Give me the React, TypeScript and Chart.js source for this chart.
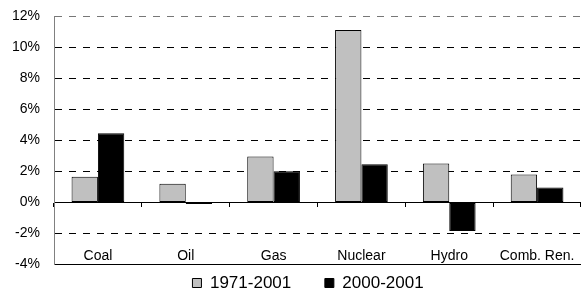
import React, { useEffect, useRef } from "react";
import { Chart, registerables } from "chart.js";

Chart.register(...registerables);

const categories = ["Coal", "Oil", "Gas", "Nuclear", "Hydro", "Comb. Ren."];
const series1971 = [1.65, 1.2, 2.95, 11.1, 2.5, 1.8];
const series2000 = [4.45, -0.1, 2.0, 2.45, -1.85, 0.95];
const seriesNames = ["1971-2001", "2000-2001"];
const yMin = -4;
const yMax = 12;
const yStep = 2;

const FONT = "'Liberation Sans', Arial, Helvetica, sans-serif";
const legendGaps = ["     ", "    "];

export default function App() {
  const ref = useRef<HTMLCanvasElement | null>(null);

  useEffect(() => {
    document.body.style.margin = "0";
    document.body.style.overflow = "hidden";
    if (!ref.current) return;
    const chart = new Chart(ref.current, {
      type: "bar",
      data: {
        labels: categories,
        datasets: [
          {
            label: seriesNames[0],
            data: series1971,
            backgroundColor: "#c0c0c0",
            borderColor: "#000",
            borderWidth: 1,
            borderSkipped: false,
          },
          {
            label: seriesNames[1],
            data: series2000,
            backgroundColor: "#000",
            borderColor: "#000",
            borderWidth: 1,
            borderSkipped: false,
          },
        ],
      },
      options: {
        animation: false,
        responsive: false,
        devicePixelRatio: 1,
        layout: { padding: { top: 16, left: 0, right: 0, bottom: -8.5 } },
        datasets: {
          bar: { categoryPercentage: 0.6, barPercentage: 1 },
        },
        scales: {
          x: {
            position: "bottom",
            offset: true,
            grid: { display: false, offset: true, drawTicks: false },
            border: { display: true, color: "#000", width: 1 },
            ticks: {
              mirror: true,
              padding: 0,
              color: "#000",
              font: { family: FONT, size: 14 },
              maxRotation: 0,
              autoSkip: false,
            },
            afterFit: (s: any) => {
              s.height = 0;
            },
          },
          x2: {
            axis: "x",
            type: "category",
            position: { y: 0 } as any,
            offset: true,
            grid: {
              display: true,
              offset: true,
              drawOnChartArea: false,
              drawTicks: true,
              tickLength: 4,
              color: "#000",
            },
            border: { display: true, color: "#000", width: 1 },
            ticks: { display: false },
            afterFit: (s: any) => {
              s.height = 0;
            },
          },
          y: {
            min: yMin,
            max: yMax,
            border: {
              display: true,
              color: "#808080",
              width: 1,
              dash: (ctx: any) =>
                ctx.tick && (ctx.tick.value === 0 || ctx.tick.value === yMin) ? [] : [7, 7],
            },
            grid: {
              drawTicks: true,
              tickLength: 14,
              tickColor: "rgba(0,0,0,0)",
              color: (ctx: any) =>
                ctx.tick && ctx.tick.value === yMax ? "#777" : "#000",
              lineWidth: 1,
            },
            ticks: {
              stepSize: yStep,
              padding: 0,
              color: "#000",
              font: { family: FONT, size: 14 },
              callback: (v: any) => v + "%",
            },
            afterFit: (s: any) => {
              s.width = 54;
            },
          },
        },
        plugins: {
          legend: {
            position: "bottom",
            fullSize: false,
            labels: {
              boxWidth: 9,
              boxHeight: 9,
              padding: 10,
              color: "#000",
              font: { family: FONT, size: 17 },
              generateLabels: (c: any) => {
                const items = Chart.defaults.plugins.legend.labels.generateLabels(c);
                return items.map((it: any, i: number) => ({
                  ...it,
                  text: it.text + (legendGaps[i] || ""),
                }));
              },
            },
          },
          tooltip: { enabled: false },
        },
      },
    });
    return () => chart.destroy();
  }, []);

  return (
    <div style={{ width: 581, height: 293 }}>
      <canvas ref={ref} width={581} height={293} style={{ display: "block" }} />
    </div>
  );
}
